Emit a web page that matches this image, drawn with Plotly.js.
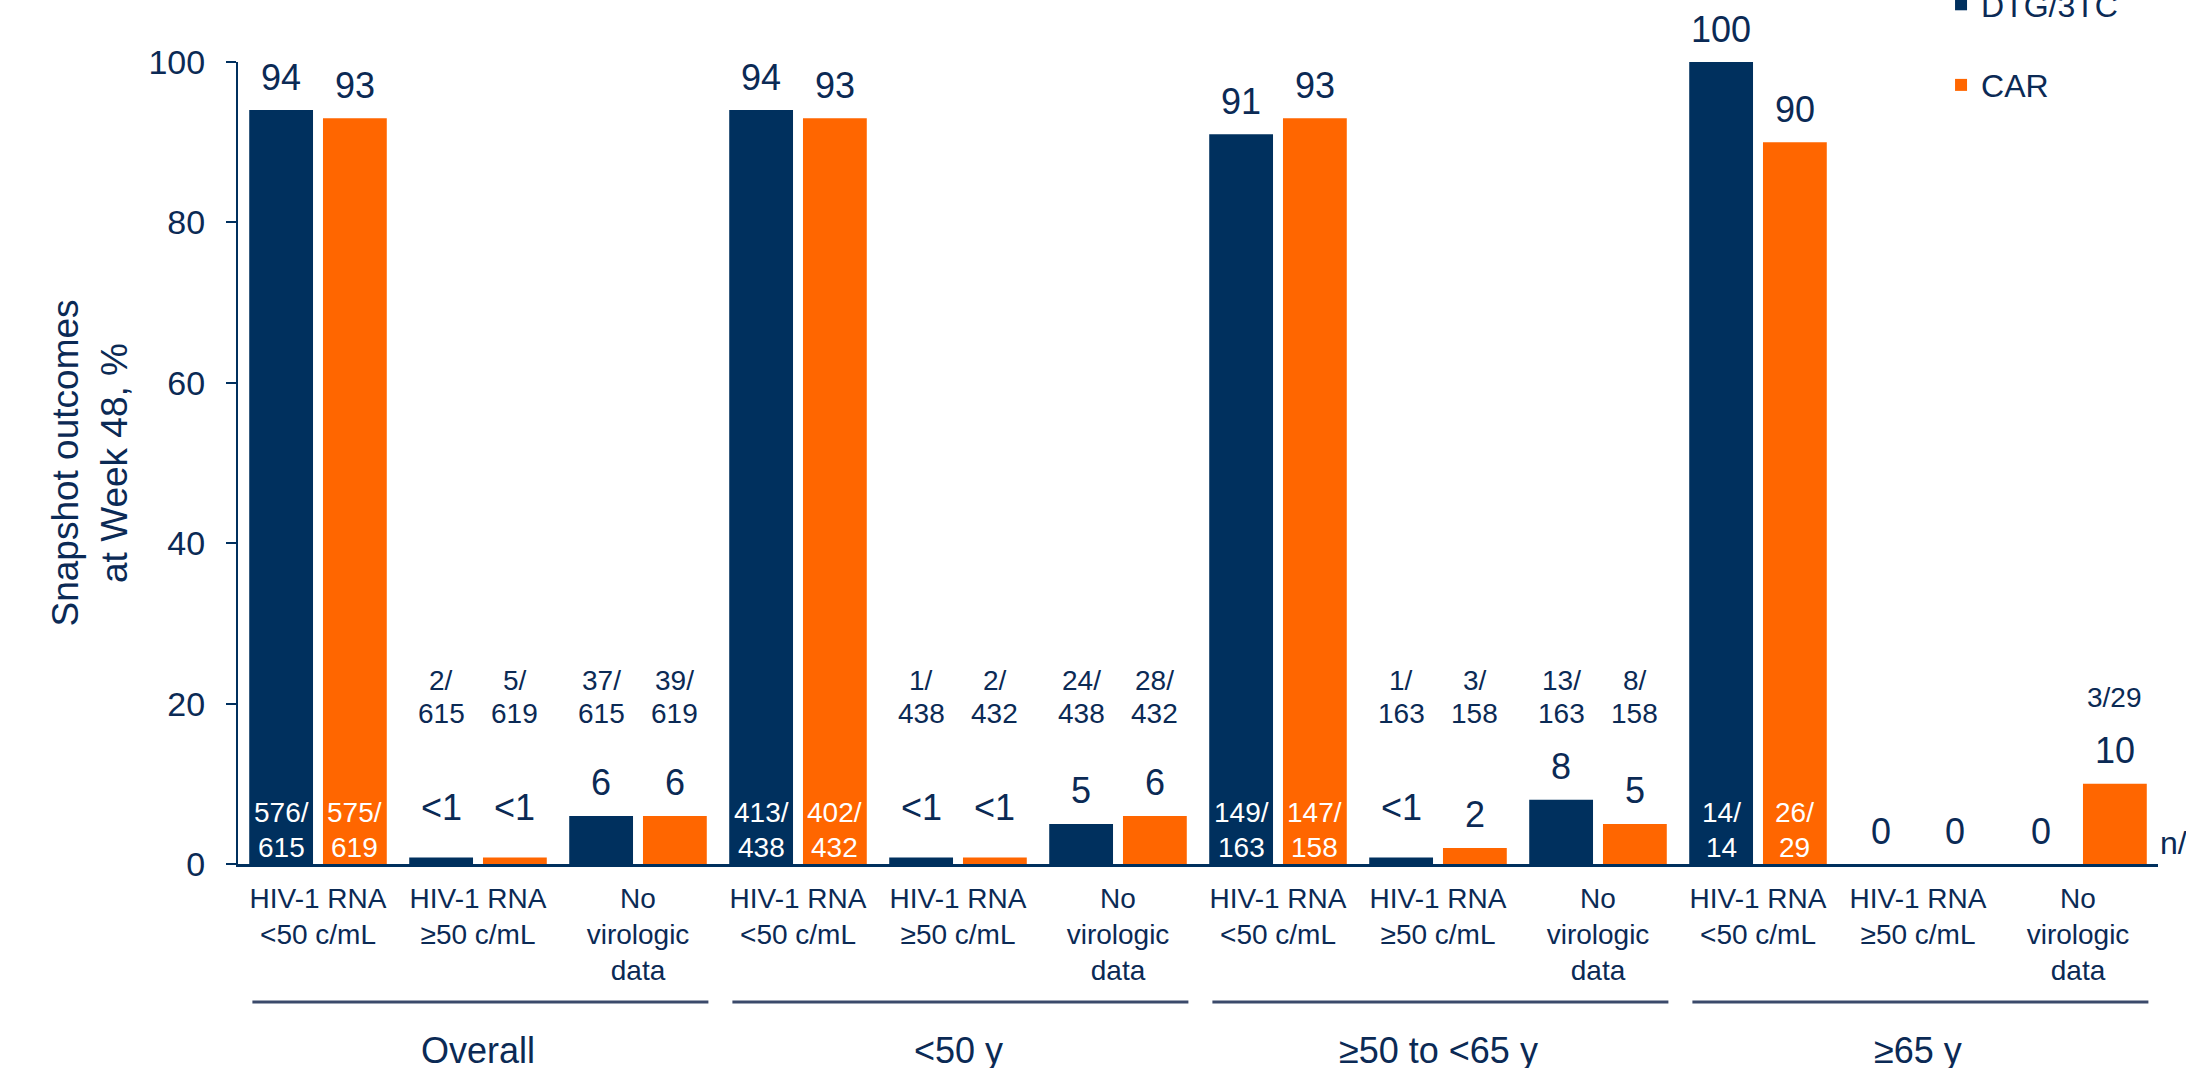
<!DOCTYPE html>
<html><head><meta charset="utf-8">
<script src="https://cdn.plot.ly/plotly-3.0.1.min.js"></script>
<style>html,body{margin:0;padding:0;background:#fff;} #chart{width:2186px;height:1068px;}</style>
</head><body><div id="chart"></div>
<script>
// ---------------- data ----------------
const subCategories = ["HIV-1 RNA<br>&lt;50 c/mL", "HIV-1 RNA<br>≥50 c/mL", "No<br>virologic<br>data"];
const groups = ["Overall", "&lt;50 y", "≥50 to &lt;65 y", "≥65 y"];
const seriesNames = ["DTG/3TC", "CAR"];
const dtgPct = [94, 0.8, 6, 94, 0.8, 5, 91, 0.8, 8, 100, 0, 0];
const carPct = [93, 0.8, 6, 93, 0.8, 6, 93, 2, 5, 90, 0, 10];
const dtgLabel = ["94", "<1", "6", "94", "<1", "5", "91", "<1", "8", "100", "0", "0"];
const carLabel = ["93", "<1", "6", "93", "<1", "6", "93", "2", "5", "90", "0", "10"];
const dtgRatio = ["576/\n615", "2/\n615", "37/\n615", "413/\n438", "1/\n438", "24/\n438", "149/\n163", "1/\n163", "13/\n163", "14/\n14", "", ""];
const carRatio = ["575/\n619", "5/\n619", "39/\n619", "402/\n432", "2/\n432", "28/\n432", "147/\n158", "3/\n158", "8/\n158", "26/\n29", "", "3/29"];
const cornerNote = "n/";

// ---------------- style ----------------
const NAVY = "#00305e", ORANGE = "#ff6600", TXT = "#0b2a55";
const FONT = "Liberation Sans, Arial, sans-serif";
const BARGAP = 0.078, GROUPGAP = 0.135;
const categories = [];
groups.forEach(() => subCategories.forEach(c => categories.push(c)));
const xIdx = categories.map((_, i) => i);
const halfSlot = (1 - BARGAP) / 4;

const esc = s => s.replace(/</g, "&lt;");
const annotations = [];
function addValue(x, v, label) {
  annotations.push({x: x, y: v, xref: "x", yref: "y", text: esc(label), showarrow: false,
    yanchor: "middle", yshift: label === "<1" ? 50 : 33, font: {family: FONT, size: 36, color: TXT}});
}
function addRatio(x, v, ratio) {
  if (!ratio) return;
  const lines = ratio.split("\n");
  const inside = v > 50;
  let ys;
  if (inside) ys = [6.36, 2.0];
  else ys = lines.length === 2 ? [22.9, 18.8] : [20.7];
  lines.forEach((ln, k) => annotations.push({x: x, y: ys[k], xref: "x", yref: "y", text: ln, showarrow: false,
    yanchor: "middle", font: {family: FONT, size: 28, color: inside ? "#ffffff" : TXT}}));
}
xIdx.forEach(i => {
  addValue(i - halfSlot, dtgPct[i], dtgLabel[i]);
  addValue(i + halfSlot, carPct[i], carLabel[i]);
  addRatio(i - halfSlot, dtgPct[i], dtgRatio[i]);
  addRatio(i + halfSlot, carPct[i], carRatio[i]);
});
const shapes = [];
groups.forEach((g, k) => {
  annotations.push({x: 3 * k + 1, y: -0.232, xref: "x", yref: "paper", text: g, showarrow: false,
    yanchor: "middle", font: {family: FONT, size: 36, color: TXT}});
  shapes.push({type: "line", xref: "x", yref: "paper", x0: 3 * k - 0.41, x1: 3 * k + 2.44, y0: -0.172, y1: -0.172,
    line: {color: "#3b4a6b", width: 3}});
});
annotations.push({x: 1.0, y: 2.6, xref: "paper", yref: "y", text: cornerNote, showarrow: false,
  xanchor: "left", yanchor: "middle", font: {family: FONT, size: 32, color: TXT}});

const traces = [
  {type: "bar", name: seriesNames[0], x: xIdx, y: dtgPct, marker: {color: NAVY}, legendgroup: "a", hoverinfo: "skip"},
  {type: "bar", name: seriesNames[1], x: xIdx, y: carPct, marker: {color: ORANGE}, legendgroup: "b", hoverinfo: "skip"}
];
const layout = {
  width: 2186, height: 1068,
  margin: {l: 238, r: 28, t: 62, b: 204, autoexpand: false},
  paper_bgcolor: "#fff", plot_bgcolor: "#fff",
  barmode: "group", bargap: BARGAP, bargroupgap: GROUPGAP,
  font: {family: FONT, color: TXT},
  showlegend: true,
  legend: {x: 0.887, y: 1.106, xanchor: "left", yanchor: "top", traceorder: "grouped", tracegroupgap: 36,
    font: {family: FONT, size: 32, color: TXT}, bgcolor: "rgba(0,0,0,0)"},
  xaxis: {range: [-0.5, 11.5], tickmode: "array", tickvals: xIdx, ticktext: categories, ticks: "",
    showgrid: false, zeroline: false, showline: true, linecolor: NAVY, linewidth: 3, ticklabelstandoff: 7,
    tickfont: {family: FONT, size: 28, color: TXT}, automargin: false, fixedrange: true},
  yaxis: {range: [0, 100], tickvals: [0, 20, 40, 60, 80, 100], ticks: "outside", ticklen: 10, tickwidth: 2,
    tickcolor: NAVY, showline: true, linecolor: NAVY, linewidth: 2, showgrid: false, zeroline: false,
    ticklabelstandoff: 14, tickfont: {family: FONT, size: 34, color: TXT}, automargin: false, fixedrange: true,
    title: {text: "Snapshot outcomes<br>at Week 48, %", font: {family: FONT, size: 37, color: TXT}, standoff: 10}},
  annotations: annotations, shapes: shapes
};
Plotly.newPlot("chart", traces, layout, {displayModeBar: false, staticPlot: true});
</script></body></html>
